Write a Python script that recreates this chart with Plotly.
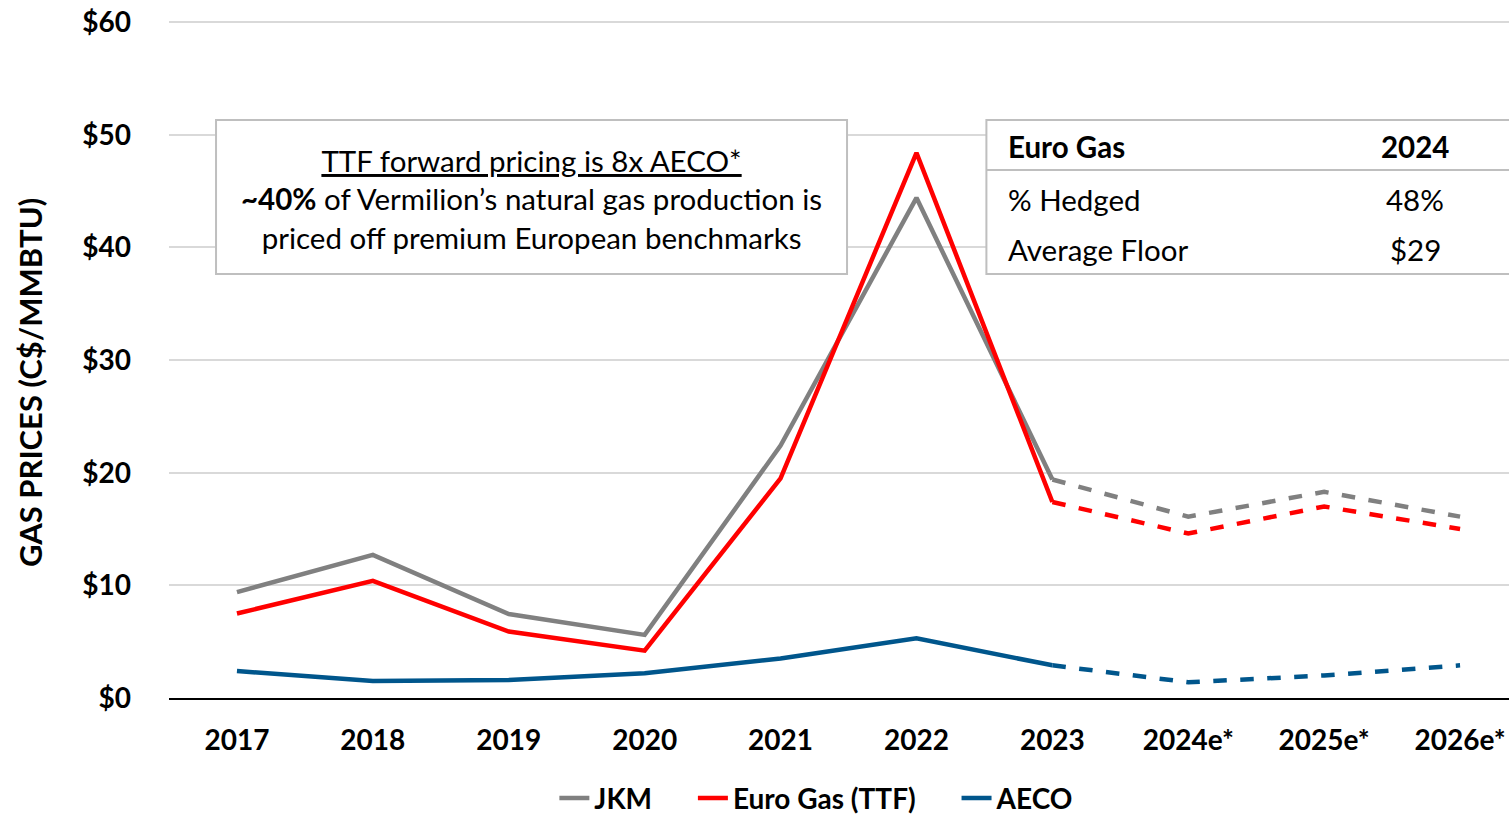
import plotly.graph_objects as go

years = ["2017", "2018", "2019", "2020", "2021", "2022", "2023", "2024e*", "2025e*", "2026e*"]
jkm = [9.4, 12.7, 7.45, 5.6, 22.4, 44.4, 19.4, 16.1, 18.3, 16.1]
ttf = [7.5, 10.4, 5.9, 4.2, 19.5, 48.4, 17.4, 14.6, 17.0, 15.0]
aeco = [2.4, 1.5, 1.6, 2.2, 3.5, 5.3, 2.9, 1.4, 2.0, 2.9]
yticks = [0, 10, 20, 30, 40, 50, 60]
split = 6  # 2023: actuals end, forecasts begin (dashed)

series = [("JKM", jkm, "#808080"), ("Euro Gas (TTF)", ttf, "#FF0000"), ("AECO", aeco, "#00568C")]

FONT = "Lato"
PAD = "&nbsp;" * 5

fig = go.Figure()
for i, (name, vals, color) in enumerate(series):
    label = "<b>" + name + "</b>" + (PAD if i < len(series) - 1 else "")
    fig.add_trace(go.Scatter(x=years[:split + 1], y=vals[:split + 1], mode="lines", name=label,
                             line=dict(color=color, width=4.5)))
    fig.add_trace(go.Scatter(x=years[split:], y=vals[split:], mode="lines", name=name,
                             showlegend=False, line=dict(color=color, width=4.5, dash="dash")))

# annotation box (left)
fig.add_shape(type="rect", xref="paper", yref="paper", x0=0.0351, x1=0.506, y0=0.6263, y1=0.8538,
              line=dict(color="#BFBFBF", width=2), fillcolor="white", layer="above")
fig.add_annotation(xref="paper", yref="paper", x=0.2705, y=0.737, xanchor="center", yanchor="middle",
                   showarrow=False,
                   text="<u>TTF forward pricing is 8x AECO*</u><br><b>~40%</b> of Vermilion’s natural gas production is<br>priced off premium European benchmarks",
                   font=dict(family=FONT, size=29.5, color="black"), align="center")

# hedge table (right)
fig.add_shape(type="rect", xref="paper", yref="paper", x0=0.61, x1=1.05, y0=0.6263, y1=0.8538,
              line=dict(color="#BFBFBF", width=2), fillcolor="white", layer="above")
fig.add_shape(type="line", xref="paper", yref="paper", x0=0.61, x1=1.0, y0=0.780, y1=0.780,
              line=dict(color="#BFBFBF", width=2), layer="above")
rows = [("<b>Euro Gas</b>", "<b>2024</b>", 0.8139), ("% Hedged", "48%", 0.737), ("Average Floor", "$29", 0.6618)]
for left, right, yy in rows:
    fig.add_annotation(xref="paper", yref="paper", x=0.6246, y=yy, xanchor="left", yanchor="middle",
                       showarrow=False, text=left, font=dict(family=FONT, size=29.5, color="black"))
    fig.add_annotation(xref="paper", yref="paper", x=0.93, y=yy, xanchor="center", yanchor="middle",
                       showarrow=False, text=right, font=dict(family=FONT, size=29.5, color="black"))

# y title
fig.add_annotation(xref="paper", yref="paper", x=-0.1037, y=0.4653, xanchor="center", yanchor="middle",
                   showarrow=False, textangle=-90, text="<b>GAS PRICES (C$/MMBTU)</b>",
                   font=dict(family=FONT, size=31, color="black"))

fig.update_layout(
    width=1509, height=818,
    margin=dict(l=169, r=0, t=21, b=120, autoexpand=False),
    plot_bgcolor="white", paper_bgcolor="white",
    font=dict(family=FONT, color="black"),
    legend=dict(orientation="h", x=0.541, y=0.024, xref="container", yref="container",
                xanchor="center", yanchor="middle",
                font=dict(family=FONT, size=28, color="black")),
    showlegend=True,
)
fig.update_xaxes(type="category", range=[-0.5, 9.36], showgrid=False, showline=True, automargin=False,
                 linecolor="#000000", linewidth=2, ticks="", ticklabelstandoff=16,
                 tickvals=years, ticktext=["<b>" + y + "</b>" for y in years],
                 tickfont=dict(family=FONT, size=28, color="black"))
fig.update_yaxes(range=[0, 60.1], tickvals=yticks, ticktext=["<b>$%d</b>" % v for v in yticks],
                 showgrid=True, automargin=False,
                 gridcolor="#D9D9D9", gridwidth=1.5, zeroline=False, showline=False,
                 ticklabelstandoff=37, tickfont=dict(family=FONT, size=28, color="black"))

fig.write_html("out.html", config={"displayModeBar": False},
               post_script="document.body.style.margin='0';")
